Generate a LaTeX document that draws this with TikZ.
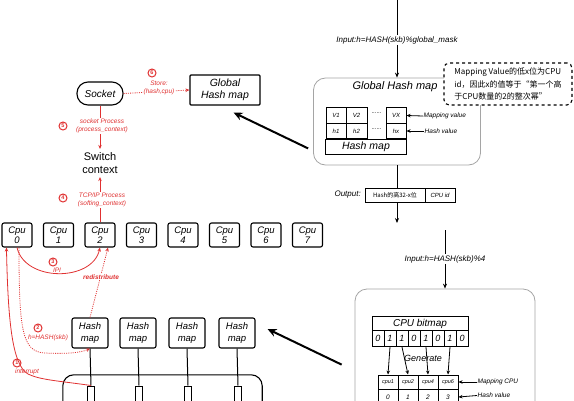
\documentclass[tikz,border=0pt]{standalone}
\usepackage{fontspec}
\setmainfont{Liberation Sans}
\newfontfamily\cjk{Noto Sans CJK SC}
\usetikzlibrary{arrows.meta,calc}
\definecolor{rc}{RGB}{224,49,49}
\definecolor{bc}{RGB}{165,165,165}
\newcommand\myfs[2]{\fontsize{#1}{#2}\selectfont}
\tikzset{
 bx/.style={draw, line width=1.1pt, rounded corners=2pt, align=center, inner sep=1pt},
 cpubox/.style={bx, minimum width=30, minimum height=24, font=\myfs{9.5}{10.5}\itshape},
 hmbox/.style={bx, minimum width=36, minimum height=30, font=\myfs{9.5}{11.5}\itshape},
 smallr/.style={draw, line width=1pt, minimum width=7, minimum height=16, inner sep=0},
 gbx/.style={draw=bc, line width=0.8pt, rounded corners=12pt, inner sep=0},
 cell/.style={draw, line width=1pt, minimum width=20, minimum height=15.5, inner sep=0, font=\myfs{6}{6}\itshape},
 lab/.style={font=\myfs{8}{9}\itshape, inner sep=1pt},
 sl/.style={font=\myfs{6.5}{7}\itshape, inner sep=0.5pt},
 sa/.style={line width=0.8pt, -{Stealth[length=4pt,width=3.5pt]}},
 ar/.style={line width=0.8pt, -{Stealth[length=5pt,width=4pt]}},
 bigar/.style={line width=2pt, -{Stealth[length=9pt,width=8pt]}},
 rl/.style={text=rc, font=\myfs{6.5}{8}\itshape, align=center, inner sep=0.5pt},
 num/.style={circle, draw=rc, line width=1pt, text=rc, font=\myfs{5.5}{5.5}\bfseries, inner sep=0, minimum size=8},
 ra/.style={draw=rc, line width=0.8pt, -{Stealth[length=4pt,width=3.5pt]}},
 rd/.style={ra, dash pattern=on 1pt off 1.2pt},
}
\begin{document}
\begin{tikzpicture}[x=1pt,y=-1pt]
\useasboundingbox (0,0) rectangle (574,400);

% ---------- left: cpus ----------
\foreach \i in {0,...,7}
  \node[cpubox] (cpu\i) at ({17+41.5*\i},235) {Cpu\\\i};

% ---------- top-left ----------
\node[bx, rounded corners=11pt, minimum width=46, minimum height=23, font=\myfs{10}{10}\itshape] (sock) at (100,93.5) {Socket};
\node[bx, rounded corners=1pt, minimum width=70, minimum height=30, font=\myfs{10.5}{12.5}\itshape] (ghm) at (225,90) {Global\\Hash map};
\node[font=\myfs{11}{13}, align=center] (sw) at (100,163) {Switch\\context};

\draw[rd] (sock.east) -- (ghm.west);
\node[num] (n6) at (152,73) {6};
\node[rl, fill=white] (l6) at (159,88) {Store:\\(hash,cpu)};

\draw[ra] (sock.south) -- (sw.north);
\node[num] (n5) at (63,126) {5};
\node[rl, fill=white] (l5) at (102,126) {socket Process\\(process\_context)};

\draw[ra] (cpu2.north) -- (sw.south);
\node[num] (n4) at (63,198) {4};
\node[rl, fill=white] (l4) at (102,200) {TCP/IP Process\\(softing\_context)};

% ---------- hash maps bottom-left ----------
\foreach \i/\x in {1/90,2/138,3/187,4/237} {
  \node[hmbox] (hm\i) at (\x,333) {Hash\\map};
  \node[smallr] (r\i) at (\x+1,394) {};
  \draw[line width=1pt] (hm\i.south) -- (r\i.north);
}
\node[draw=none, inner sep=0, minimum width=199, minimum height=55] (bus) at (162.5,402.5) {};
\draw[line width=1.1pt, rounded corners=11pt] (bus.south west) -- (bus.north west) -- (bus.north east) -- (bus.south east);

% ---------- red flows ----------
\coordinate (c0a) at ($(cpu0.south west)+(5,0)$);
\coordinate (c0b) at ($(cpu0.south)+(2,0)$);
\coordinate (c2r) at ($(cpu2.south)+(8,0)$);
\draw[ra] (r1.north) .. controls (60,381) and (40,380) .. (28,374) .. controls (12,365) and (8,320) .. (c0a);
\draw[rd] (c0b) .. controls (19,330) and (22,352) .. (45,353) .. controls (65,354) and (80,353) .. (hm1.south);
\draw[ra] (cpu0.south) .. controls (25,282) and (92,282) .. (cpu2.south);
\draw[rd] (hm1.north) -- (c2r);

\node[num] (n3) at (53,262) {3};
\node[rl, fill=white] (l3) at (57,270) {IPI};
\node[rl, fill=white, font=\myfs{6.5}{7}\itshape\bfseries] (lr) at (101,277) {redistribute};
\node[num] (n2) at (38,328) {2};
\node[rl] (l2) at (48,338) {h=HASH(skb)};
\node[num] (n1) at (17,363) {1};
\node[rl] (l1) at (27,372) {interrupt};

% ---------- top-right ----------
\coordinate (t1) at (397,0);
\node[lab] (in1) at (397,40) {Input:h=HASH(skb)\%global\_mask};
\node[gbx, minimum width=167, minimum height=87] (gbox) at (397,121.5) {};
\draw[line width=0.8pt] (t1) -- (in1.north);
\draw[ar] (in1.south) -- (gbox.north);
\node[font=\myfs{11}{11}\itshape] (ght) at (395,87) {Global Hash map};

\node[draw, dashed, line width=1.1pt, rounded corners=5pt, fill=white, minimum width=128, minimum height=42, align=left, inner sep=2pt, font=\cjk\myfs{8}{12.5}] (note) at (508,84)
  {Mapping Value的低x位为CPU\\id，因此x的值等于“第一个高\\于CPU数量的2的整次幂”};

\node[cell] (v1) at (336,115.5) {V1};
\node[cell, minimum width=21] (v2) at (356.5,115.5) {V2};
\node[font=\myfs{6}{6}] (vd) at (376.5,113) {......};
\node[cell] (vx) at (396,115.5) {VX};
\node[cell] (h1) at (336,131) {h1};
\node[cell, minimum width=21] (h2) at (356.5,131) {h2};
\node[font=\myfs{6}{6}] (hd) at (376.5,129) {......};
\node[cell] (hx) at (396,131) {hx};
\node[cell, minimum width=81, minimum height=15, font=\myfs{10.5}{10.5}\itshape] (hmb) at (366,146.5) {Hash map};

\node[sl, anchor=west] (mv) at (423,116) {Mapping value};
\draw[sa] (mv.west) -- (vx.east);
\node[sl, anchor=west] (hvl) at (424,131) {Hash value};
\draw[sa] (hvl.west) -- (hx.east);

\node[cell, minimum width=60, minimum height=14, font=\cjk\myfs{6}{6}] (o1) at (395,195) {Hash的高32-x位};
\node[cell, minimum width=30, minimum height=14] (o2) at (440,195) {CPU id};
\node[lab, anchor=east] (outl) at (362,195) {Output:};
\draw[line width=0.8pt] (gbox.south) -- (gbox.south |- o1.north);
\coordinate (stub) at (397,223);
\draw[ar] (gbox.south |- o1.south) -- (stub);

% ---------- bottom-right ----------
\coordinate (t2) at (445,230);
\node[lab] (in2) at (445,259) {Input:h=HASH(skb)\%4};
\node[gbx, minimum width=180, minimum height=140] (gbox2) at (445,359) {};
\draw[line width=0.8pt] (t2) -- (in2.north);
\draw[ar] (in2.south) -- (gbox2.north);

\node[cell, minimum width=96, minimum height=13.5, font=\myfs{10}{10}\itshape] (bm) at (420,323.5) {CPU bitmap};
\foreach \b [count=\i from 0] in {0,1,1,0,1,0,1,0}
  \node[cell, minimum width=12, minimum height=16, font=\myfs{9}{9}\itshape] (b\i) at ({378+12*\i},338.5) {\b};
\node[font=\myfs{9}{9}\itshape] (gen) at (423,358) {Generate};

\foreach \n/\x/\v in {1/388/0,2/408/1,4/428/2,6/448/3} {
  \node[cell, minimum height=14, font=\myfs{5.5}{5.5}\itshape] (cc\n) at (\x,382) {cpu\n};
  \node[cell, minimum height=16, font=\myfs{6.5}{6.5}\itshape] (hc\n) at (\x,397) {\v};
  \draw[sa] (b\n.south) -- (cc\n.north);
}
\node[sl, anchor=west] (mc) at (477,382) {Mapping CPU};
\draw[sa] (mc.west) -- (cc6.east);
\node[sl, anchor=west] (hv2) at (477,395.5) {Hash value};
\draw[sa] (hv2.west) -- (hc6.east);

% ---------- big arrows ----------
\coordinate (ba1s) at ($(gbox.south west)+(-5,-17)$);
\coordinate (ba1e) at ($(ghm.south east)+(-27,7)$);
\draw[bigar] (ba1s) -- (ba1e);
\coordinate (ba2s) at ($(gbox2.north west)+(-13,76)$);
\coordinate (ba2e) at ($(hm4.east)+(12,-4)$);
\draw[bigar] (ba2s) -- (ba2e);
\end{tikzpicture}
\end{document}
